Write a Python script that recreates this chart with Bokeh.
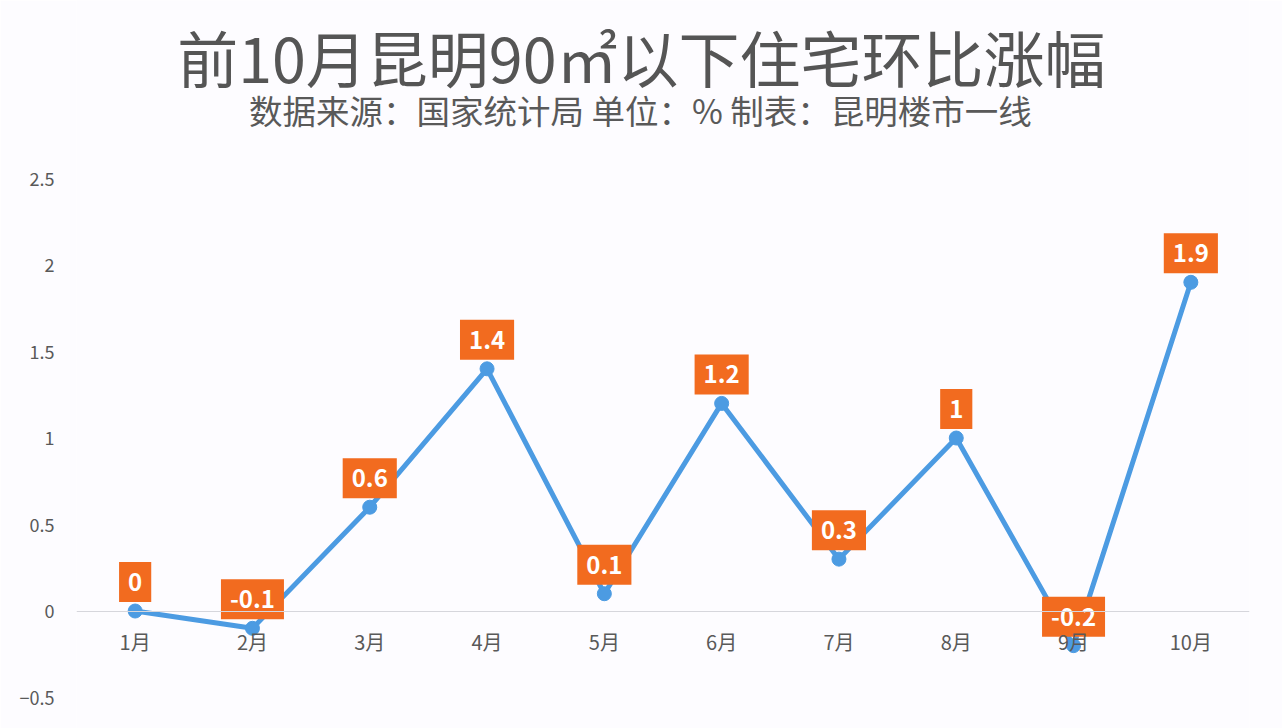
from bokeh.plotting import figure
from bokeh.models import Range1d, FactorRange
from bokeh.core.properties import value
from bokeh.embed import file_html
from bokeh.resources import INLINE

months = ["1月", "2月", "3月", "4月", "5月", "6月", "7月", "8月", "9月", "10月"]
mom_change = [0, -0.1, 0.6, 1.4, 0.1, 1.2, 0.3, 1.0, -0.2, 1.9]
value_labels = ["0", "-0.1", "0.6", "1.4", "0.1", "1.2", "0.3", "1", "-0.2", "1.9"]
y_ticks = [-0.5, 0, 0.5, 1, 1.5, 2, 2.5]

title_text = "前10月昆明90㎡以下住宅环比涨幅"
subtitle_text = "数据来源：国家统计局 单位：% 制表：昆明楼市一线"

FONT = "Noto Sans CJK SC"
BLUE = "#4C9BE2"
ORANGE = "#F26B1F"
GRAY = "#595959"

W, H = 1282, 728
Y_TOP, Y_BOT = 3.529, -0.679   # extra headroom above the value axis for the titles

p = figure(
    width=W, height=H, title=None,
    x_range=FactorRange(*months, range_padding=0),
    y_range=Range1d(Y_BOT, Y_TOP),
    output_backend="svg", toolbar_location=None,
    min_border_left=76, min_border_right=33,
    min_border_top=0, min_border_bottom=0,
    background_fill_color="#FDFCFF", border_fill_color="#FDFCFF",
    outline_line_color=None,
)

# grid & axes
p.xgrid.grid_line_color = None
p.ygrid.grid_line_color = None

p.yaxis.ticker = y_ticks
p.yaxis.axis_line_color = None
p.yaxis.major_tick_line_color = None
p.yaxis.minor_tick_line_color = None
p.yaxis.major_label_text_font = FONT
p.yaxis.major_label_text_font_size = "18px"
p.yaxis.major_label_text_color = GRAY
p.yaxis.major_label_standoff = 16

p.xaxis.fixed_location = 0
p.xaxis.axis_line_color = "#D6D6DC"
p.xaxis.axis_line_width = 1
p.xaxis.major_tick_line_color = None
p.xaxis.minor_tick_line_color = None
p.xaxis.major_label_text_font = FONT
p.xaxis.major_label_text_font_size = "20px"
p.xaxis.major_label_text_color = GRAY
p.xaxis.major_label_standoff = 10

# titles (text glyphs anchored at the top of the canvas)
p.text(x=["5月"], y=[Y_TOP], text=[title_text], x_offset=37, y_offset=56,
       text_align="center", text_baseline="middle",
       text_font=value(FONT), text_font_size="61px", text_color="#555555")
p.text(x=["5月"], y=[Y_TOP], text=[subtitle_text], x_offset=36, y_offset=109,
       text_align="center", text_baseline="middle",
       text_font=value(FONT), text_font_size="33.5px", text_color=GRAY)

# series
p.line(months, mom_change, line_color=BLUE, line_width=5)
p.scatter(months, mom_change, size=14, fill_color=BLUE, line_color=BLUE)

# data labels
p.text(months, mom_change, text=value_labels, y_offset=-29,
       text_align="center", text_baseline="middle",
       text_font=value(FONT), text_font_size="24px", text_font_style="bold",
       text_color="white", background_fill_color=ORANGE,
       padding=dict(left=9, right=9, top=11, bottom=11))

open("out.html", "w").write(file_html(p, INLINE))
